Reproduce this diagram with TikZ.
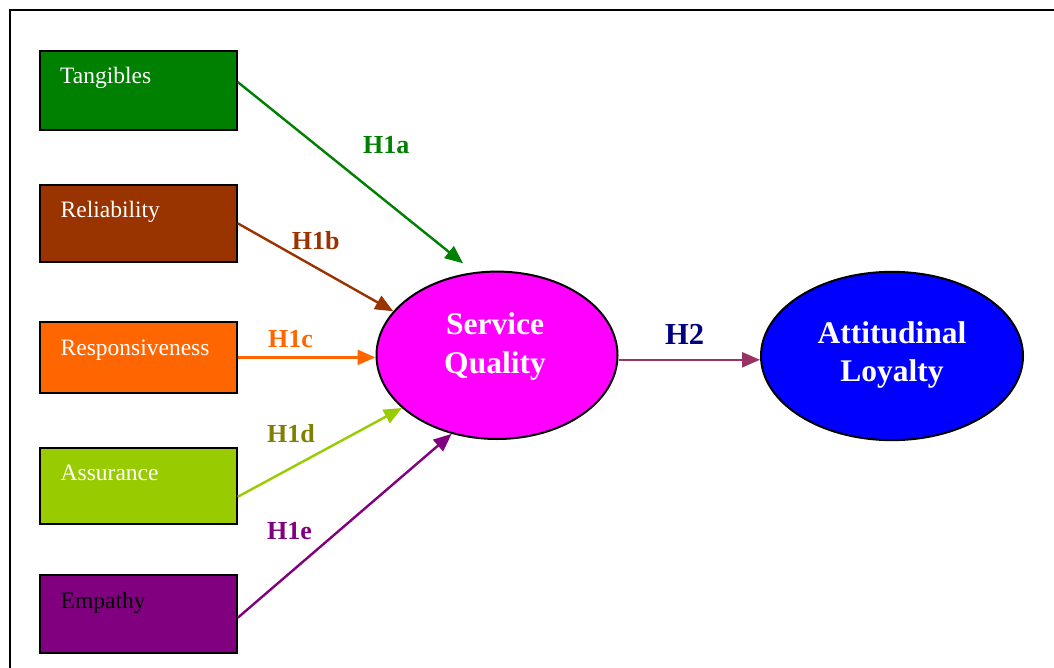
\documentclass[tikz,border=0pt]{standalone}
\usepackage{fontspec}
\setmainfont{Liberation Serif}
\usetikzlibrary{shapes.geometric,arrows.meta,calc}
\definecolor{cTang}{HTML}{008000}
\definecolor{cRel}{HTML}{993300}
\definecolor{cResp}{HTML}{FF6600}
\definecolor{cAss}{HTML}{99CC00}
\definecolor{cAssLab}{HTML}{808000}
\definecolor{cEmp}{HTML}{800080}
\definecolor{cSQ}{HTML}{FF00FF}
\definecolor{cAL}{HTML}{0000FF}
\definecolor{cHtwo}{HTML}{993366}
\definecolor{cHtwoLab}{HTML}{000080}
\begin{document}
\begin{tikzpicture}[x=1pt,y=-1pt,
  box/.style={draw=black,line width=2pt,minimum width=196.7pt,inner sep=0pt},
  boxtext/.style={anchor=base west,inner sep=0pt,font=\fontsize{23.5}{28}\selectfont},
  ell/.style={ellipse,draw=black,line width=2pt,inner sep=0pt},
  elltext/.style={text=white,align=center,inner sep=0pt,font=\bfseries\fontsize{31.5}{38.5}\selectfont},
  lab/.style={anchor=base west,inner sep=0pt,font=\bfseries\fontsize{26}{30}\selectfont},
  arr/.style={line width=2.4pt,-{Triangle[length=18pt,width=15pt]}}]
\useasboundingbox (0,0) rectangle (1054,668);
% frame
\draw[line width=2pt] (10,668) -- (10,10) -- (1054,10);
% boxes
\node[box,fill=cTang,minimum height=79pt] (tang) at (138.35,90.5) {};
\node[box,fill=cRel,minimum height=76.7pt] (rel) at (138.35,223.3) {};
\node[box,fill=cResp,minimum height=71.3pt] (resp) at (138.35,357.4) {};
\node[box,fill=cAss,minimum height=76.3pt] (ass) at (138.35,485.8) {};
\node[box,fill=cEmp,minimum height=77.6pt] (emp) at (138.35,613.8) {};
\node[boxtext,text=white] (tangt) at ($(tang.north west)+(21,34)$) {Tangibles};
\node[boxtext,text=white] (relt) at ($(rel.north west)+(21.5,34)$) {Reliability};
\node[boxtext,text=white] (respt) at ($(resp.north west)+(21.5,35)$) {Responsiveness};
\node[boxtext,text=white] (asst) at ($(ass.north west)+(21.5,34)$) {Assurance};
\node[boxtext,text=black] (empt) at ($(emp.north west)+(21.5,34)$) {Empathy};
% ellipses
\node[ell,fill=cSQ,minimum width=241pt,minimum height=167.4pt] (sq) at (497,355.3) {};
\node[elltext] (sqt) at ([yshift=9pt,xshift=-2pt]sq.center) {Service\\Quality};
\node[ell,fill=cAL,minimum width=262pt,minimum height=168.3pt] (al) at (892,356) {};
\node[elltext] (alt) at ([yshift=1pt]al.center) {Attitudinal\\Loyalty~};
% arrows
\coordinate (tipa) at (463,263.3);
\draw[arr,cTang] ([yshift=8.5pt]tang.east) -- (tipa);
\draw[arr,cRel] (rel.east) -- (sq.157);
\draw[arr,cResp] (resp.east) -- (resp.east -| sq.west);
\draw[arr,cAss] ([yshift=-11pt]ass.east) -- (sq.209);
\draw[arr,cEmp] ([yshift=-4pt]emp.east) -- (sq.240);
\draw[arr,cHtwo] ([yshift=-4.5pt]sq.east) -- ([yshift=-4.5pt]sq.east -| al.west);
% labels
\node[lab,text=cTang] (ha) at (363,154) {H1a};
\node[lab,text=cRel] (hb) at (291.7,250) {H1b};
\node[lab,text=cResp] (hc) at (268,347) {H1c};
\node[lab,text=cAssLab] (hd) at (267,442.7) {H1d};
\node[lab,text=cEmp] (he) at (267,539) {H1e};
\node[lab,text=cHtwoLab,font=\bfseries\fontsize{30.5}{34}\selectfont] (htwo) at (665,344) {H2};
\end{tikzpicture}
\end{document}
